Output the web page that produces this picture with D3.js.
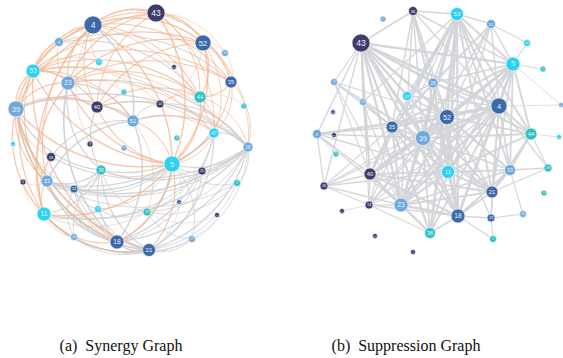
<!DOCTYPE html>
<html><head><meta charset="utf-8">
<script src="https://cdn.jsdelivr.net/npm/d3@7"></script>
<style>body{margin:0;background:#fff}svg{display:block}</style>
</head><body><svg id="c" width="563" height="358"></svg>
<script>
// group colours
const groupKeys = ["P","B","L","C","T"];
const groupPalette = ["#3e3c6b","#3c69a8","#6fa8dc","#2bd2f6","#30c2c4"];

// nodes: [id, group, degree, layoutX, layoutY]  (layout units)
const synergyNodes = [
 ["4","B",36,93,25],["43","P",36,156,13],["52","B",32,203,43],["8","L",18,59,42],
 ["50","L",14,225,53],["41","C",14,99,62],["10","P",10,174,67],["53","C",28,33,71],
 ["35","B",24,231,82],["23","L",28,68,83],["14","T",12,124,92],["44","T",24,200,97],
 ["13","P",16,160,104],["12","T",12,244,106],["40","P",24,97,107],["39","L",32,16,109],
 ["51","L",24,133,121],["47","C",20,214,133],["15","T",12,177,138],["34","C",10,13,144],
 ["9","P",12,90,144],["17","L",12,124,148],["28","L",20,248,147],["26","P",18,51,157],
 ["5","C",32,172,164],["38","T",20,101,170],["20","P",16,202,171],["33","L",24,47,181],
 ["6","P",12,23,182],["2","T",14,237,183],["24","B",16,74,189],["3","B",10,179,202],
 ["37","C",14,98,209],["29","T",16,147,212],["11","C",28,44,214],["1","P",10,217,215],
 ["46","L",14,74,237],["27","L",14,192,239],["18","B",28,117,242],["21","B",26,149,250]
];
const suppressionNodes = [
 ["36","P",18,113,11],["53","C",26,157,14],["27","L",12,83,19],["51","L",18,191,24],
 ["43","P",36,61,43],["41","C",14,227,43],["5","C",28,213,64],["14","T",12,243,69],
 ["17","L",14,34,82],["28","L",20,133,83],["47","C",18,107,96],["48","L",14,63,102],
 ["4","B",32,199,106],["50","L",10,261,105],["3","B",10,33,112],["52","B",30,147,117],
 ["35","B",24,92,127],["8","L",18,17,134],["19","P",10,34,135],["44","T",24,231,134],
 ["39","L",30,123,138],["34","C",10,259,137],["12","T",12,36,154],["29","T",16,248,168],
 ["33","L",22,210,170],["11","C",26,148,172],["40","P",24,70,174],["26","P",16,24,186],
 ["21","B",24,192,192],["15","T",12,244,193],["13","P",16,69,205],["23","L",28,101,205],
 ["9","P",10,42,211],["46","L",14,223,214],["18","B",28,158,216],["24","B",16,191,218],
 ["38","T",22,130,233],["10","P",10,75,236],["2","T",14,193,239],["1","P",10,113,252]
];

// edges as adjacency lists "source: targets"
const synergyOrangeEdges = [
 "53: 4 43 52 35 44 47 5 23 39 40 11 33 8 41 51 18 28 13",
 "4: 43 52 35 44 23 39 40 5 47 11 33 8 41",
 "43: 52 35 44 23 39 40 5 47 50 10",
 "52: 35 44 23 47 5 40 50 28 13",
 "23: 44 35 39 40 11 5 47 14",
 "39: 11 33 5 18 40 26 21",
 "35: 44 28 47 5 50",
 "44: 47 5 40 13 12 28",
 "40: 51 5 47",
 "11: 33 5 18 26 6 21 29",
 "5: 47 18 21 38",
 "33: 6 26",
 "8: 23 41",
 "51: 5 47 29"
];
const synergyGrayEdges = [
 "18: 28 5 33 47 24 39 38 27 20 21 51 23",
 "21: 28 33 11 27 24 38 47 20 2 39 3",
 "33: 28 5 47 24 51 38 2 20",
 "24: 28 5 37 46 38",
 "11: 28 21 46 37 38 20",
 "28: 5 2 20 47 38 39 27 51 29",
 "5: 20 2 29 27 37 3",
 "39: 51 38 24",
 "26: 51 28",
 "46: 21 38 27",
 "29: 27 2 1 47",
 "37: 21 29",
 "8: 35 44",
 "4: 51 9",
 "40: 38 28",
 "23: 28 38 51",
 "38: 29 47",
 "13: 51 28",
 "27: 1"
];
const suppressionEdges = [
 "43: 36 8 17 48 26 52 39 11 4 23 18 21 33 44 35 40 13 38 28 47 5",
 "53: 36 51 52 39 35 4 11 18 23 21 44 33 40 5 28 47 13 38 48",
 "36: 52 39 4 28 35 11 18 23 5",
 "51: 52 39 35 4 5 41 11 28",
 "5: 52 39 4 11 18 21 33 44 50 41 14 35 23 40 28",
 "4: 52 39 11 18 21 33 44 50 35 23 40 38 13 28 47 24 29",
 "52: 39 11 18 21 33 44 35 23 40 38 13 8 17 26 28 47 24",
 "39: 11 18 21 33 35 23 40 38 13 8 17 26 28 47 44 48",
 "35: 11 18 23 40 38 13 8 17 26 28 21 48",
 "8: 40 26 11 23 19 12 4",
 "17: 40 48 23",
 "48: 40 23 11",
 "40: 26 13 23 11 18 38 21",
 "26: 13 23 11",
 "13: 23 18 11 38 9",
 "23: 18 38 11 21 33",
 "38: 18 11",
 "18: 24 21 11 33 2",
 "21: 33 24 11 44 29",
 "24: 46 2",
 "33: 29 44 46 11",
 "44: 29 11 34",
 "28: 47 11 18"
];
const captions = ["(a)  Synergy Graph", "(b)  Suppression Graph"];

const svg = d3.select("#c");
const color = d3.scaleOrdinal().domain(groupKeys).range(groupPalette);
const rScale = d3.scaleLinear().domain([0, 40]).range([0, 10]);
const wScale = d3.scaleLinear().domain([10, 36]).range([0.7, 2.6]).clamp(true);

function parseEdges(list){
  const out=[];
  list.forEach(line=>{
    const [s, rest] = line.split(":");
    rest.trim().split(/\s+/).forEach(t=>out.push([s.trim(), t]));
  });
  return out;
}

function drawPanel(nodes, opts){
  const x = d3.scaleLinear().domain([0,250]).range([opts.x0, opts.x0+250]);
  const y = d3.scaleLinear().domain([0,250]).range([0,250]);
  const g = svg.append("g");
  const byId = new Map(nodes.map(n=>[n[0], {id:n[0], grp:n[1], deg:n[2], x:x(n[3]), y:y(n[4])}]));
  const cx = x(130), cy = y(130);
  function pathFor(s,t){
    if(!opts.curved) return `M${s.x},${s.y}L${t.x},${t.y}`;
    const dx=t.x-s.x, dy=t.y-s.y, d=Math.hypot(dx,dy);
    const mx=(s.x+t.x)/2-cx, my=(s.y+t.y)/2-cy;
    const sweep = (dy*mx - dx*my) > 0 ? 1 : 0;
    return `M${s.x},${s.y}A${d},${d} 0 0,${sweep} ${t.x},${t.y}`;
  }
  opts.edgeSets.forEach(es=>{
    const edges = parseEdges(es.list).filter(e=>byId.has(e[0])&&byId.has(e[1]));
    g.append("g").selectAll("path").data(edges).join("path")
      .attr("d", e=>pathFor(byId.get(e[0]), byId.get(e[1])))
      .attr("fill","none")
      .attr("stroke", es.color)
      .attr("stroke-opacity", es.opacity)
      .attr("stroke-width", e=>wScale(Math.min(byId.get(e[0]).deg, byId.get(e[1]).deg))*es.wk);
  });
  const ng = g.append("g").selectAll("g").data([...byId.values()]).join("g")
    .attr("transform", d=>`translate(${d.x},${d.y})`);
  ng.append("circle").attr("r", d=>rScale(d.deg)).attr("fill", d=>color(d.grp))
    .attr("stroke","#ffffff").attr("stroke-width",0.6);
  ng.append("text").text(d=>d.id)
    .attr("text-anchor","middle").attr("dy","0.36em")
    .attr("font-family","'Liberation Sans', Arial, sans-serif")
    .attr("font-size", d=>Math.max(2.5, rScale(d.deg)*0.95))
    .attr("fill","#eef1f6");
}

drawPanel(synergyNodes, {x0:0, curved:true, edgeSets:[
  {list:synergyGrayEdges, color:"#cdd0d4", opacity:0.9, wk:0.85},
  {list:synergyOrangeEdges, color:"#f2b893", opacity:0.8, wk:0.6}
]});
drawPanel(suppressionNodes, {x0:300, curved:false, edgeSets:[
  {list:suppressionEdges, color:"#d3d5d8", opacity:0.95, wk:1.15}
]});

svg.selectAll("text.cap").data(captions).join("text").attr("class","cap")
  .attr("x",(d,i)=>[121,406][i]).attr("y",351)
  .attr("text-anchor","middle")
  .attr("font-family","'Liberation Serif','DejaVu Serif',serif")
  .attr("font-size",16).attr("fill","#111")
  .style("white-space","pre")
  .text(d=>d);
</script></body></html>
